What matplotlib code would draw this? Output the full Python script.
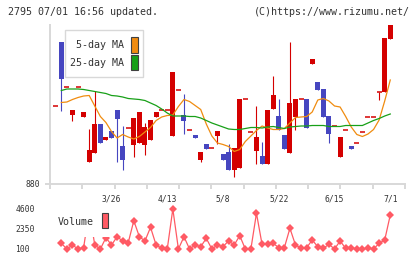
import matplotlib
matplotlib.use("Agg")
import matplotlib.pyplot as plt
from matplotlib.patches import Rectangle

plt.rcParams['font.family'] = ['DejaVu Sans Mono']

W, H = 420, 259

# daily candles, index -1 .. 59
days = list(range(-1, 60))
opens = [1035, 1163, 1074, 1018, 1074, 1014, 924, 942, 1000, 968,
         985, 1027, 955, 992, 958, 962, 957, 967, 1014, 1027,
         1027, 975, 1068, 1018, 988, 977, 928, 959, 951, 976,
         939, 943, 908, 912, 1049, 984, 945, 935, 919, 1029,
         1015, 977, 942, 1013, 1049, 1049, 1120, 1083, 1069, 1015,
         996, 933, 988, 955, 962, 984, 1014, 1014, 1064, 1063,
         1170]
highs = [1035, 1163, 1074, 1027, 1074, 1023, 990, 1066, 1000, 974,
         985, 1027, 995, 992, 1011, 1023, 1002, 1007, 1023, 1027,
         1027, 1104, 1068, 1060, 988, 977, 943, 959, 951, 985,
         939, 959, 951, 1049, 1049, 984, 1035, 963, 1027, 1095,
         1049, 977, 1163, 1049, 1049, 1049, 1129, 1083, 1069, 1015,
         996, 973, 988, 955, 962, 984, 1014, 1014, 1064, 1171,
         1197]
lows = [1035, 1026, 1074, 1006, 1074, 1014, 924, 942, 962, 968,
        971, 923, 908, 992, 933, 962, 937, 967, 1014, 1027,
        1027, 975, 1068, 980, 988, 971, 924, 950, 951, 959,
        928, 908, 894, 912, 1049, 984, 919, 919, 919, 1029,
        987, 949, 942, 987, 1049, 991, 1120, 1067, 1013, 962,
        996, 933, 988, 950, 962, 984, 1014, 1014, 1048, 1063,
        1170]
closes = [1035, 1090, 1074, 1027, 1074, 1023, 947, 1000, 962, 974,
          971, 1010, 928, 992, 1011, 1023, 994, 1007, 1023, 1027,
          1027, 1104, 1068, 1006, 988, 971, 943, 950, 951, 985,
          928, 908, 951, 1049, 1049, 984, 973, 919, 1027, 1057,
          987, 949, 1041, 1049, 1049, 991, 1129, 1067, 1013, 979,
          996, 973, 988, 950, 962, 984, 1014, 1014, 1064, 1171,
          1197]

# moving averages and volume, index 0 .. 59
ma5 = [1042, 1043, 1048, 1052, 1055, 1056, 1035, 1014, 1002, 984,
       971, 978, 973, 969, 974, 983, 992, 1006, 1013, 1016,
       1017, 1034, 1048, 1044, 1036, 1028, 999, 975, 961, 958,
       954, 944, 948, 964, 975, 986, 995, 991, 988, 988,
       990, 1001, 1012, 1013, 1014, 1023, 1047, 1050, 1045, 1035,
       1033, 1014, 993, 978, 974, 979, 988, 1007, 1045, 1087]
ma25 = [1066, 1069, 1069, 1069, 1068, 1066, 1064, 1062, 1060, 1056,
        1055, 1053, 1050, 1049, 1048, 1046, 1041, 1036, 1029, 1021,
        1015, 1015, 1015, 1014, 1014, 1011, 1006, 1001, 997, 993,
        989, 988, 988, 990, 992, 992, 991, 993, 994, 992,
        990, 993, 994, 995, 995, 996, 996, 996, 994, 994,
        994, 996, 996, 996, 996, 1001, 1006, 1010, 1015, 1019]
volume = [740, 100, 550, 100, 250, 4400, 550, 100, 1370, 550,
          1480, 1000, 810, 3280, 1480, 1000, 2540, 550, 180, 100,
          4600, 100, 1480, 100, 550, 360, 1300, 100, 550, 360,
          1020, 550, 1600, 100, 100, 4120, 630, 630, 740, 250,
          250, 2430, 550, 180, 250, 1110, 360, 180, 630, 100,
          1000, 180, 250, 100, 100, 180, 100, 740, 1110, 3930]

date_labels = ["3/26", "4/13", "5/8", "5/22", "6/15", "7/1"]
date_pos = [9, 19, 29, 39, 49, 59]
vol_ticks = [100, 2350, 4600]

RED = '#d40000'
BLUE = '#4646c0'
ORANGE = '#f08c10'
GREEN = '#18a018'
VOLC = '#ff5a64'
GRID = '#d8d8d8'
TXT = '#333333'

fig = plt.figure(figsize=(W / 100, H / 100), dpi=100)


def box(x0, y0, x1, y1):
    # pixel box (top-left origin) -> figure fraction rect
    return [x0 / W, 1 - y1 / H, (x1 - x0) / W, (y1 - y0) / H]


ax = fig.add_axes(box(50, 25, 405, 183.5))
xmin, xmax = -2.03, 61.64
ax.set_xlim(xmin, xmax)
ax.set_ylim(880, 1197)

for i, o, h, l, c in zip(days, opens, highs, lows, closes):
    col = RED if c >= o else BLUE
    if h > l:
        ax.vlines(i, l, h, colors=col, lw=0.8, zorder=2)
    if c == o:
        ax.hlines(c, i - 0.45, i + 0.45, colors=col, lw=1.1, zorder=3)
    else:
        ax.bar(i, abs(c - o), bottom=min(o, c), width=0.9, color=col,
               linewidth=0, zorder=3)

ax.plot(range(len(ma5)), ma5, color=ORANGE, lw=0.9, zorder=4)
ax.plot(range(len(ma25)), ma25, color=GREEN, lw=0.9, zorder=4)

for s in ['top', 'right']:
    ax.spines[s].set_visible(False)
for s in ['left', 'bottom']:
    ax.spines[s].set_color(GRID)
    ax.spines[s].set_linewidth(1.4)

step = (xmax - xmin) / 11
ax.set_xticks([xmin + k * step for k in range(12)], labels=[])
ax.set_xticks(date_pos, labels=date_labels, minor=True)
ax.tick_params(axis='x', which='major', direction='out', length=3.8,
               width=1.4, color=GRID)
ax.tick_params(axis='x', which='minor', length=0, pad=8, labelsize=5.8,
               labelcolor=TXT)
ax.set_yticks([880], labels=['880'])
ax.tick_params(axis='y', direction='out', length=3.6, width=1.4, color=GRID,
               pad=14.4, labelsize=5.8, labelcolor=TXT)
for lab in ax.get_yticklabels():
    lab.set_horizontalalignment('left')

# legend of the price panel
fig.patches.append(Rectangle((65 / W, 1 - 77 / H), 78 / W, 47 / H,
                             transform=fig.transFigure, facecolor='white',
                             edgecolor=GRID, lw=1.0, zorder=5))
fig.text(124.5 / W, 1 - 45.5 / H, "5-day MA", ha='right', va='center',
         fontsize=7.2, color=TXT, zorder=6)
fig.text(124.5 / W, 1 - 63.3 / H, "25-day MA", ha='right', va='center',
         fontsize=7.2, color=TXT, zorder=6)
fig.patches.append(Rectangle((131 / W, 1 - 52.7 / H), 6.5 / W, 16 / H,
                             transform=fig.transFigure, facecolor=ORANGE,
                             edgecolor='#404040', lw=0.8, zorder=6))
fig.patches.append(Rectangle((131 / W, 1 - 69.5 / H), 6.5 / W, 15 / H,
                             transform=fig.transFigure, facecolor=GREEN,
                             edgecolor='#404040', lw=0.8, zorder=6))

# volume panel
ax2 = fig.add_axes(box(50, 204, 405, 252))
ax2.set_xlim(xmin, xmax)
ax2.set_ylim(-237.5, 5162.5)
ax2.plot(range(len(volume)), volume, color=VOLC, lw=0.9, marker='D',
         markersize=4.3, markeredgewidth=0, zorder=2)
for s in ax2.spines.values():
    s.set_visible(False)
ax2.set_xticks([])
ax2.set_yticks(vol_ticks, labels=[str(v) for v in vol_ticks])
ax2.tick_params(axis='y', length=0, pad=25, labelsize=5.8, labelcolor=TXT)
for lab in ax2.get_yticklabels():
    lab.set_horizontalalignment('left')
# white box behind the volume label hides part of the line
ax2.add_patch(Rectangle((55 / W, 1 - 236.8 / H), 57 / W, 34 / H,
                        transform=fig.transFigure, facecolor='white',
                        edgecolor='none', zorder=5, clip_on=False))
fig.text(58 / W, 1 - 222 / H, "Volume", ha='left', va='center',
         fontsize=7.2, color=TXT, zorder=6)
fig.patches.append(Rectangle((101.7 / W, 1 - 228 / H), 6 / W, 15 / H,
                             transform=fig.transFigure, facecolor=VOLC,
                             edgecolor='#404040', lw=0.8, zorder=6))

fig.text(8 / W, 1 - 12 / H, "2795 07/01 16:56 updated.", ha='left',
         va='center', fontsize=7.2, color=TXT)
fig.text(410 / W, 1 - 12 / H, "(C)https://www.rizumu.net/", ha='right',
         va='center', fontsize=7.2, color=TXT)

fig.savefig("out.png", dpi=100, facecolor='white')
